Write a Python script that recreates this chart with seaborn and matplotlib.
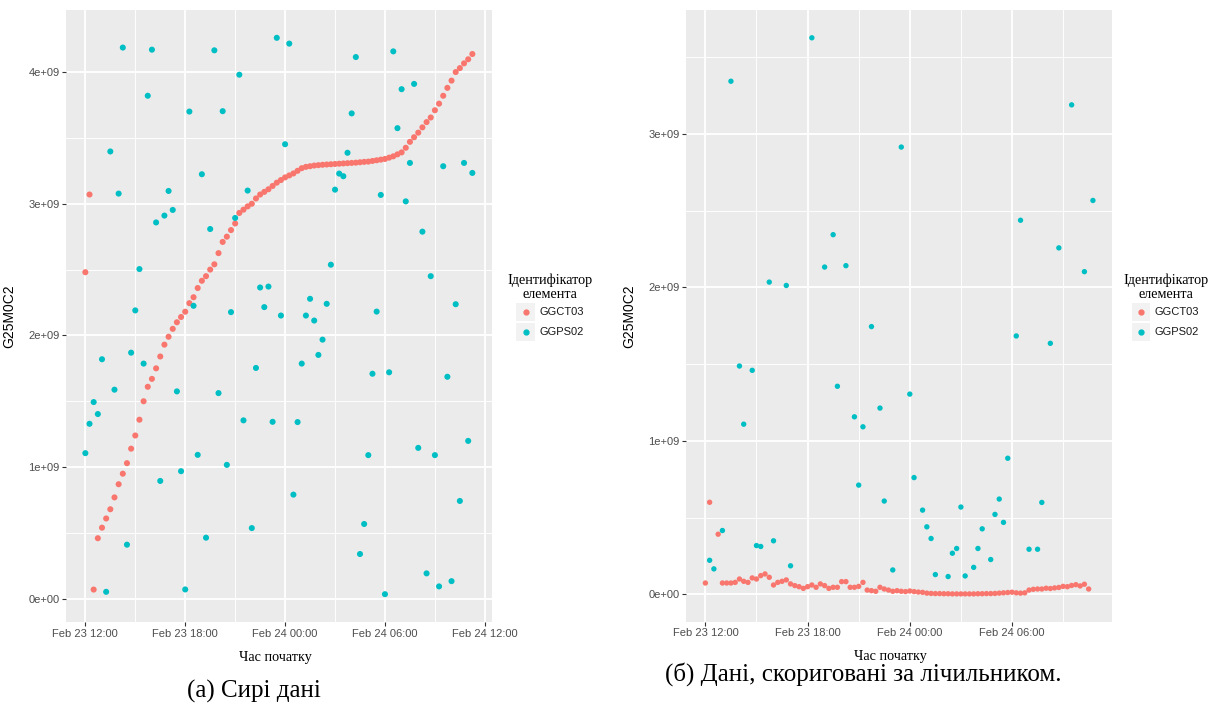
import matplotlib
matplotlib.use("Agg")
import matplotlib.pyplot as plt
import matplotlib.dates as mdates
from matplotlib.ticker import MultipleLocator, FuncFormatter
from matplotlib.legend_handler import HandlerBase
from matplotlib.patches import Rectangle
from matplotlib.lines import Line2D
from matplotlib.font_manager import FontProperties
import numpy as np
import pandas as pd
import seaborn as sns

START = pd.Timestamp("2017-02-23 12:00")
ELEMENTS = ["GGCT03", "GGPS02"]
COLORS = {"GGCT03": "#F8766D", "GGPS02": "#00BFC4"}

# 15-minute slots counted from Feb 23 12:00, values in units of 1e9
raw_ggct03_slot = list(range(94))
raw_ggct03 = [2.48, 3.07, 0.07, 0.46, 0.54, 0.61, 0.68, 0.77, 0.87, 0.95,
              1.03, 1.14, 1.24, 1.36, 1.50, 1.61, 1.67, 1.75, 1.84, 1.93,
              1.99, 2.05, 2.10, 2.14, 2.18, 2.245, 2.29, 2.36, 2.415, 2.45,
              2.50, 2.54, 2.625, 2.71, 2.75, 2.80, 2.85, 2.93, 2.955, 2.98,
              3.00, 3.04, 3.07, 3.09, 3.11, 3.135, 3.16, 3.18, 3.20, 3.215,
              3.23, 3.25, 3.27, 3.28, 3.285, 3.29, 3.293, 3.296, 3.298, 3.30,
              3.302, 3.304, 3.306, 3.308, 3.31, 3.312, 3.315, 3.318, 3.32, 3.325,
              3.33, 3.335, 3.34, 3.35, 3.36, 3.375, 3.39, 3.425, 3.47, 3.505,
              3.54, 3.58, 3.62, 3.655, 3.71, 3.76, 3.82, 3.88, 3.935, 4.00,
              4.03, 4.066, 4.097, 4.137]

raw_ggps02_slot = list(range(94))
raw_ggps02 = [1.106, 1.329, 1.494, 1.403, 1.819, 0.053, 3.397, 1.588, 3.077, 4.186,
              0.411, 1.869, 2.19, 2.504, 1.786, 3.82, 4.17, 2.858, 0.895, 2.91,
              3.097, 2.953, 1.575, 0.969, 0.071, 3.70, 2.225, 1.093, 3.224, 0.464,
              2.808, 4.165, 1.562, 3.703, 1.017, 2.177, 2.892, 3.98, 1.355, 3.10,
              0.537, 1.753, 2.364, 2.215, 2.371, 1.344, 4.26, 2.151, 3.452, 4.216,
              0.791, 1.342, 1.786, 2.151, 2.278, 2.113, 1.852, 1.968, 2.24, 2.537,
              3.107, 3.229, 3.209, 3.387, 3.686, 4.114, 0.34, 0.568, 1.091, 1.709,
              2.181, 3.067, 0.035, 1.72, 4.157, 3.574, 3.87, 3.018, 3.31, 3.91,
              1.146, 2.788, 0.193, 2.45, 1.091, 0.094, 3.285, 1.686, 0.134, 2.237,
              0.743, 3.31, 1.199, 3.234]

cor_ggct03_slot = [0, 1] + list(range(3, 91))
cor_ggct03 = [0.074, 0.60, 0.392, 0.074, 0.074, 0.074, 0.078, 0.10, 0.085, 0.078,
              0.107, 0.10, 0.122, 0.133, 0.111, 0.061, 0.078, 0.085, 0.094, 0.068,
              0.057, 0.05, 0.039, 0.05, 0.061, 0.046, 0.068, 0.057, 0.039, 0.046,
              0.046, 0.083, 0.083, 0.046, 0.046, 0.052, 0.078, 0.028, 0.024, 0.02,
              0.046, 0.035, 0.028, 0.02, 0.024, 0.02, 0.018, 0.022, 0.018, 0.015,
              0.013, 0.008, 0.006, 0.005, 0.005, 0.004, 0.004, 0.003, 0.003, 0.003,
              0.003, 0.003, 0.003, 0.004, 0.004, 0.005, 0.005, 0.006, 0.008, 0.01,
              0.012, 0.014, 0.01, 0.008, 0.01, 0.028, 0.033, 0.035, 0.035, 0.04,
              0.038, 0.042, 0.045, 0.052, 0.05, 0.058, 0.063, 0.055, 0.066, 0.035]

cor_ggps02_slot = [1, 2, 4, 6, 8, 9, 11, 12, 13, 15, 16, 19, 20, 25, 28, 30, 31, 33,
                   35, 36, 37, 39, 41, 42, 44, 46, 48, 49, 51, 52, 53, 54, 57, 58,
                   59, 60, 61, 63, 64, 65, 67, 68, 69, 70, 71, 73, 74, 76, 78, 79,
                   81, 83, 86, 89, 91]
cor_ggps02 = [0.222, 0.166, 0.416, 3.344, 1.488, 1.109, 1.46, 0.318, 0.312, 2.035,
              0.349, 2.013, 0.186, 3.627, 2.133, 2.344, 1.356, 2.142, 1.157, 0.712,
              1.092, 1.745, 1.214, 0.608, 0.159, 2.915, 1.305, 0.761, 0.549, 0.44,
              0.364, 0.129, 0.116, 0.268, 0.299, 0.569, 0.12, 0.176, 0.299, 0.427,
              0.227, 0.521, 0.621, 0.469, 0.887, 1.684, 2.438, 0.294, 0.294, 0.599,
              1.636, 2.258, 3.19, 2.103, 2.567]

SANS = "Liberation Sans"
SERIF = "Liberation Serif"
plt.rcParams["font.family"] = [SANS, "DejaVu Sans"]


def make_frame(slots_a, vals_a, slots_b, vals_b):
    slots = np.array(slots_a + slots_b)
    return pd.DataFrame({
        "time": START + pd.to_timedelta(slots * 15, unit="min"),
        "value": np.array(vals_a + vals_b) * 1e9,
        "element": [ELEMENTS[0]] * len(slots_a) + [ELEMENTS[1]] * len(slots_b),
    })


class KeyHandler(HandlerBase):
    # ggplot-like legend key: light grey square with a dot
    def create_artists(self, legend, orig_handle, xdescent, ydescent,
                       width, height, fontsize, trans):
        rect = Rectangle((-xdescent, -ydescent), width, height,
                         facecolor="#F2F2F2", edgecolor="none", transform=trans)
        dot = Line2D([width / 2 - xdescent], [height / 2 - ydescent],
                     marker="o", markersize=3.5, linestyle="none",
                     color=orig_handle.get_color(), transform=trans)
        return [rect, dot]


def gg_panel(ax, df, size, xlabel_x, legend_x):
    sns.scatterplot(data=df, x="time", y="value", hue="element",
                    palette=COLORS, hue_order=ELEMENTS, s=size,
                    linewidth=0, legend=False, ax=ax, zorder=3)

    # ggplot default 5% expansion
    t0, t1 = df["time"].min(), df["time"].max()
    pad = (t1 - t0) * 0.05
    ax.set_xlim(t0 - pad, t1 + pad)
    v0, v1 = df["value"].min(), df["value"].max()
    vpad = (v1 - v0) * 0.05
    ax.set_ylim(v0 - vpad, v1 + vpad)

    ax.set_facecolor("#EBEBEB")
    for s in ax.spines.values():
        s.set_visible(False)
    ax.xaxis.set_major_locator(mdates.HourLocator(byhour=[0, 6, 12, 18]))
    ax.xaxis.set_minor_locator(mdates.HourLocator(byhour=[3, 9, 15, 21]))
    ax.xaxis.set_major_formatter(mdates.DateFormatter("%b %d %H:%M"))
    ax.yaxis.set_major_locator(MultipleLocator(1e9))
    ax.yaxis.set_minor_locator(MultipleLocator(0.5e9))
    ax.yaxis.set_major_formatter(FuncFormatter(lambda v, p: f"{v:.0e}"))
    ax.grid(True, which="major", color="white", linewidth=1.3, zorder=0)
    ax.grid(True, which="minor", color="white", linewidth=0.65, zorder=0)
    ax.set_axisbelow(True)
    ax.tick_params(which="major", length=2.75, width=0.8, color="#333333",
                   labelcolor="#4D4D4D", labelsize=8, pad=2)
    ax.tick_params(which="minor", length=0)

    ax.set_xlabel("Час початку", fontfamily=SERIF, fontsize=10.3, color="black")
    ax.xaxis.set_label_coords(xlabel_x, -0.047)
    ax.set_ylabel("G25M0C2", fontsize=10, color="black")
    ax.yaxis.set_label_coords(-0.116, 0.5)

    handles = [Line2D([], [], color=COLORS[e]) for e in ELEMENTS]
    leg = ax.legend(handles, ELEMENTS, handler_map={Line2D: KeyHandler()},
                    title="Ідентифікатор\nелемента",
                    title_fontproperties=FontProperties(family=SERIF, size=10.2),
                    fontsize=8, frameon=False, loc="center",
                    bbox_to_anchor=(legend_x, 1 - 307 / 706),
                    bbox_transform=ax.figure.transFigure,
                    handlelength=1.65, handleheight=2.15, labelspacing=0.15,
                    handletextpad=0.4, borderpad=0, alignment="center")
    leg.get_title().set_multialignment("center")
    leg.get_title().set_linespacing(1.15)
    for t in leg.get_texts():
        t.set_color("#1A1A1A")


fig = plt.figure(figsize=(12.21, 7.06), dpi=100)
ax_raw = fig.add_axes([66 / 1221, 84 / 706, 425.7 / 1221, 612 / 706])
ax_cor = fig.add_axes([686 / 1221, 84.3 / 706, 426.3 / 1221, 611.7 / 706])

raw_df = make_frame(raw_ggct03_slot, raw_ggct03, raw_ggps02_slot, raw_ggps02)
cor_df = make_frame(cor_ggct03_slot, cor_ggct03, cor_ggps02_slot, cor_ggps02)

gg_panel(ax_raw, raw_df, 19, 0.491, 550 / 1221)
gg_panel(ax_cor, cor_df, 15, 0.4785, 1165.5 / 1221)

fig.text(254 / 1221, 1 - 691 / 706, "(а) Сирі дані", ha="center", va="center",
         fontfamily=SERIF, fontsize=18)
fig.text(863 / 1221, 1 - 674 / 706, "(б) Дані, скориговані за лічильником.",
         ha="center", va="center", fontfamily=SERIF, fontsize=18)

fig.savefig("out.png", dpi=100)
